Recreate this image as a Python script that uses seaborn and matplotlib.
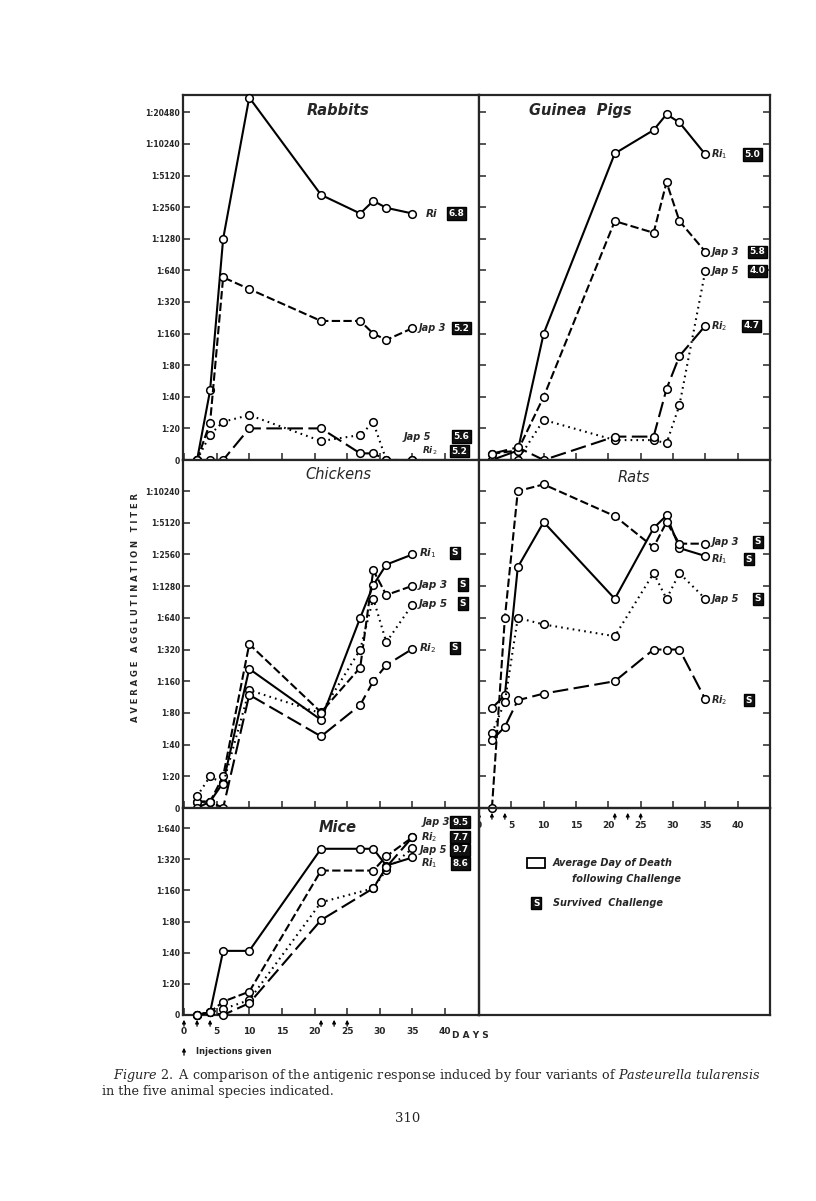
import numpy as np
import pandas as pd
import matplotlib
matplotlib.use('Agg')
import matplotlib.pyplot as plt
from matplotlib.patches import Rectangle
import seaborn as sns

sns.set_style('ticks')
plt.rcParams['font.family'] = ['DejaVu Sans']
plt.rcParams['mathtext.fontset'] = 'dejavusans'

# ==========================================
# DATA  (titer level: 0 -> "0", 1 -> 1:20, 2 -> 1:40 ... 11 -> 1:20480)
# ==========================================
titer_labels = ['0', '1:20', '1:40', '1:80', '1:160', '1:320', '1:640',
                '1:1280', '1:2560', '1:5120', '1:10240', '1:20480']
strains = ['Ri1', 'Jap3', 'Jap5', 'Ri2']
nan = np.nan

days = [2, 4, 6, 10, 21, 27, 29, 31, 35]
gp_days = [2, 6, 10, 21, 27, 29, 31, 35]

rabbit_ri1 = [0, 2.2, 7.0, 11.47, 8.39, 7.8, 8.2, 7.98, 7.8]
rabbit_jap3 = [0, 1.18, 5.78, 5.41, 4.4, 4.4, 4.0, 3.8, 4.17]
rabbit_jap5 = [0, 0.8, 1.21, 1.42, 0.6, 0.79, 1.19, 0, 0]
rabbit_ri2 = [0, 0, 0, 1.0, 1.0, 0.21, 0.21, 0, 0]

gp_ri1 = [0, 0.3, 4.0, 9.7, 10.44, 10.94, 10.68, 9.67]
gp_jap3 = [0.2, 0.3, 2.0, 7.56, 7.19, 8.79, 7.56, 6.59]
gp_jap5 = [0, 0, 1.27, 0.63, 0.63, 0.53, 1.74, 5.99]
gp_ri2 = [0.2, 0.4, 0, 0.74, 0.74, 2.25, 3.29, 4.25]

chick_ri1 = [0.2, 0.2, 0.8, 4.39, 2.78, 6.0, 7.03, 7.68, 8.0]
chick_jap3 = [0.2, 0.2, 1.0, 5.17, 3.02, 4.43, 7.5, 6.72, 7.01]
chick_jap5 = [0.37, 1.0, 0.76, 3.72, 2.99, 5.0, 6.61, 5.23, 6.42]
chick_ri2 = [0, 0.2, 0, 3.57, 2.26, 3.25, 4.0, 4.51, 5.02]

rat_ri1 = [3.15, 3.56, 7.6, 9.02, 6.6, 8.83, 9.23, 8.2, 7.95]
rat_jap3 = [0, 6.0, 10.0, 10.21, 9.21, 8.23, 9.02, 8.34, 8.34]
rat_jap5 = [2.36, 3.35, 6.0, 5.79, 5.42, 7.41, 6.6, 7.41, 6.6]
rat_ri2 = [2.14, 2.56, 3.4, 3.61, 4.0, 5.0, 5.0, 5.0, 3.43]

mice_ri1 = [0, 0.09, 2.06, 2.06, 5.34, 5.34, 5.34, 4.8, 5.06]
mice_jap3 = [0, 0.09, 0.43, 0.75, 4.64, nan, 4.64, 5.1, 5.71]
mice_jap5 = [0, 0.09, 0.19, 0.48, 3.62, nan, 4.07, 4.66, 5.35]
mice_ri2 = [0, 0.09, 0, 0.38, 3.05, nan, 4.07, 4.75, 5.71]

injection_days = [0, 2, 4, 21, 23, 25]

rabbit_tags = ['Ri', 'Jap 3', 'Jap 5', 'Ri$_2$']
other_tags = ['Ri$_1$', 'Jap 3', 'Jap 5', 'Ri$_2$']
rabbit_boxes = ['6.8', '5.2', '5.6', '5.2']
gp_boxes = ['5.0', '5.8', '4.0', '4.7']
chick_boxes = ['S', 'S', 'S', 'S']
rat_boxes = ['S', 'S', 'S', 'S']
mice_boxes = ['8.6', '9.5', '9.7', '7.7']

# ==========================================
# STYLE
# ==========================================
dash_map = {'Ri1': '', 'Jap3': (4, 1.6), 'Jap5': (0.8, 2.0), 'Ri2': (7.5, 2.6)}
marker_map = {s: 'o' for s in strains}

W, H = 816, 1201
fig = plt.figure(figsize=(W / 100, H / 100), dpi=100)


def rect(x0, y0, x1, y1):
    return [x0 / W, 1 - y1 / H, (x1 - x0) / W, (y1 - y0) / H]


ax_rab = fig.add_axes(rect(183, 95, 479, 460))
ax_gp = fig.add_axes(rect(479, 95, 770, 460))
ax_ck = fig.add_axes(rect(183, 460, 479, 808))
ax_rat = fig.add_axes(rect(479, 460, 770, 808))
ax_mice = fig.add_axes(rect(183, 808, 479, 1015))
ax_leg = fig.add_axes(rect(479, 808, 770, 1015))
ax_leg.patch.set_facecolor('none')

LEFT_X = (-0.15, 45.2)
RIGHT_X = (0.25, 45.0)


def draw_panel(ax, x, series, xlim, ymax, left_labels, right_ticks, xlabels):
    rows = []
    for name, vals in zip(strains, series):
        for d, v in zip(x, vals):
            rows.append((name, d, v))
    df = pd.DataFrame(rows, columns=['strain', 'day', 'level']).dropna()
    sns.lineplot(data=df, x='day', y='level', style='strain', style_order=strains,
                 dashes=dash_map, markers=marker_map, color='black',
                 estimator=None, sort=False, legend=False, ax=ax,
                 linewidth=1.5, markersize=5.5, markerfacecolor='white',
                 markeredgecolor='black', markeredgewidth=1.1,
                 clip_on=False, zorder=4)
    ax.set_xlim(*xlim)
    ax.set_ylim(0, ymax)
    ax.set_xlabel('')
    ax.set_ylabel('')
    n = int(np.floor(ymax)) + 1
    ax.set_yticks(range(n))
    if left_labels:
        ax.set_yticklabels(titer_labels[:n], fontsize=5.5, fontweight='bold')
    else:
        ax.set_yticklabels([])
    ax.set_xticks(range(0, 41, 5))
    if xlabels:
        ax.set_xticklabels([str(v) for v in range(0, 41, 5)], fontsize=6.5, fontweight='bold')
    else:
        ax.set_xticklabels([])
    ax.tick_params(direction='in', length=5, width=1.1, left=True, right=right_ticks,
                   top=False, bottom=True, pad=2)
    ax.tick_params(axis='x', pad=9)
    for sp in ax.spines.values():
        sp.set_visible(True)
        sp.set_linewidth(1.6)


def tag(ax, x, y, s, box, bx, size=7.5):
    ax.text(x, y, s, fontsize=size, fontstyle='italic', fontweight='bold',
            ha='left', va='center')
    ax.text(bx, y, box, fontsize=6.5, fontweight='bold', color='white',
            ha='center', va='center',
            bbox=dict(boxstyle='square,pad=0.18', fc='#111111', ec='black', lw=1))


draw_panel(ax_rab, days, [rabbit_ri1, rabbit_jap3, rabbit_jap5, rabbit_ri2],
           LEFT_X, 11.55, True, False, False)
draw_panel(ax_gp, gp_days, [gp_ri1, gp_jap3, gp_jap5, gp_ri2],
           RIGHT_X, 11.55, False, True, False)
draw_panel(ax_ck, days, [chick_ri1, chick_jap3, chick_jap5, chick_ri2],
           LEFT_X, 10.98, True, False, False)
draw_panel(ax_rat, days, [rat_ri1, rat_jap3, rat_jap5, rat_ri2],
           RIGHT_X, 10.98, False, True, True)
draw_panel(ax_mice, days, [mice_ri1, mice_jap3, mice_jap5, mice_ri2],
           LEFT_X, 6.65, True, False, True)

# panel titles
ax_rab.text(0.524, 0.957, 'Rabbits', transform=ax_rab.transAxes, ha='center', va='center',
            fontsize=10.5, fontstyle='italic', fontweight='bold')
ax_gp.text(0.35, 0.957, 'Guinea  Pigs', transform=ax_gp.transAxes, ha='center', va='center',
           fontsize=10.5, fontstyle='italic', fontweight='bold')
ax_ck.text(0.524, 0.957, 'Chickens', transform=ax_ck.transAxes, ha='center', va='center',
           fontsize=10.5, fontstyle='italic')
ax_rat.text(0.533, 0.951, 'Rats', transform=ax_rat.transAxes, ha='center', va='center',
            fontsize=10.5, fontstyle='italic')
ax_mice.text(0.524, 0.905, 'Mice', transform=ax_mice.transAxes, ha='center', va='center',
             fontsize=10.5, fontstyle='italic', fontweight='bold')

# strain tags with average day of death boxes
tag(ax_rab, 37.0, 7.8, rabbit_tags[0], rabbit_boxes[0], 41.8)
tag(ax_rab, 35.9, 4.17, rabbit_tags[1], rabbit_boxes[1], 42.5, size=7)
tag(ax_rab, 33.6, 0.74, rabbit_tags[2], rabbit_boxes[2], 42.5, size=7)
tag(ax_rab, 36.4, 0.28, rabbit_tags[3], rabbit_boxes[3], 42.2, size=6.5)
ax_rab.annotate('', xy=(31.6, 0.45), xytext=(33.4, 0.78),
                arrowprops=dict(arrowstyle='-', lw=0.9, connectionstyle='arc3,rad=0.4'))

gp_y = [9.67, 6.59, 5.99, 4.25]
gp_bx = [42.3, 43.0, 43.0, 42.1]
for i in range(4):
    tag(ax_gp, 35.9, gp_y[i], other_tags[i], gp_boxes[i], gp_bx[i], size=7)

ck_y = [8.05, 7.05, 6.45, 5.05]
ck_bx = [41.5, 42.7, 42.7, 41.5]
for i in range(4):
    tag(ax_ck, 36.0, ck_y[i], other_tags[i], chick_boxes[i], ck_bx[i])

rat_y = [7.85, 8.4, 6.6, 3.4]
rat_bx = [41.7, 43.1, 43.1, 41.7]
for i in range(4):
    tag(ax_rat, 35.9, rat_y[i], other_tags[i], rat_boxes[i], rat_bx[i], size=7)

mice_y = [4.87, 6.2, 5.31, 5.71]
mice_tx = [36.3, 36.6, 36.1, 36.3]
for i in range(4):
    tag(ax_mice, mice_tx[i], mice_y[i], other_tags[i], mice_boxes[i], 42.3, size=7)
ax_mice.annotate('', xy=(34.2, 5.45), xytext=(36.4, 6.2),
                 arrowprops=dict(arrowstyle='-', lw=0.9, connectionstyle='arc3,rad=0.5'))
ax_mice.annotate('', xy=(34.8, 5.15), xytext=(36.1, 4.75),
                 arrowprops=dict(arrowstyle='-', lw=0.9, connectionstyle='arc3,rad=-0.5'))

# injection arrows under rats and mice
for ax, per in [(ax_rat, 31.7), (ax_mice, 31.1)]:
    for d in injection_days:
        ax.annotate('', xy=(d, -2 / per), xytext=(d, -14 / per),
                    arrowprops=dict(arrowstyle='-|>', lw=0.9, color='black', mutation_scale=5),
                    annotation_clip=False, zorder=6)

fig.text(452 / W, 1 - 1036 / H, 'D A Y S', fontsize=6.5, fontweight='bold', va='center')
ax_mice.annotate('', xy=(184, H - 1045), xytext=(184, H - 1058), xycoords='figure pixels',
                 textcoords='figure pixels',
                 arrowprops=dict(arrowstyle='-|>', lw=0.9, color='black', mutation_scale=5))
fig.text(196 / W, 1 - 1052 / H, 'Injections given', fontsize=6, fontweight='bold', va='center')

# legend panel
ax_leg.set_xticks([])
ax_leg.set_yticks([])
ax_leg.set_xlim(0, 1)
ax_leg.set_ylim(0, 1)
for sp in ax_leg.spines.values():
    sp.set_visible(True)
    sp.set_linewidth(1.6)
ax_leg.add_patch(Rectangle((0.166, 0.71), 0.062, 0.05, fill=False, lw=1.3, ec='black'))
ax_leg.text(0.252, 0.736, 'Average Day of Death', fontsize=7, fontstyle='italic',
            fontweight='bold', va='center')
ax_leg.text(0.32, 0.655, 'following Challenge', fontsize=7, fontstyle='italic',
            fontweight='bold', va='center')
ax_leg.text(0.197, 0.541, 'S', fontsize=6.5, fontweight='bold', color='white', ha='center',
            va='center', bbox=dict(boxstyle='square,pad=0.2', fc='#111111', ec='black', lw=1))
ax_leg.text(0.255, 0.541, 'Survived  Challenge', fontsize=7, fontstyle='italic',
            fontweight='bold', va='center')

# y axis title
fig.text(136 / W, 1 - 607 / H, 'A V E R A G E   A G G L U T I N A T I O N   T I T E R',
         rotation=90, fontsize=6, fontweight='bold', ha='center', va='center')

# caption
fig.text(113 / W, 1 - 1076 / H,
         r'$\mathit{Figure\ 2.}$ A comparison of the antigenic response induced by four variants of $\mathit{Pasteurella\ tularensis}$',
         fontsize=9.2, family='DejaVu Serif', va='center', math_fontfamily='dejavuserif')
fig.text(102 / W, 1 - 1092 / H, 'in the five animal species indicated.',
         fontsize=9.2, family='DejaVu Serif', va='center')
fig.text(408 / W, 1 - 1118 / H, '310', fontsize=9.5, family='DejaVu Serif', ha='center',
         va='center')

fig.savefig('out.png', dpi=100)
